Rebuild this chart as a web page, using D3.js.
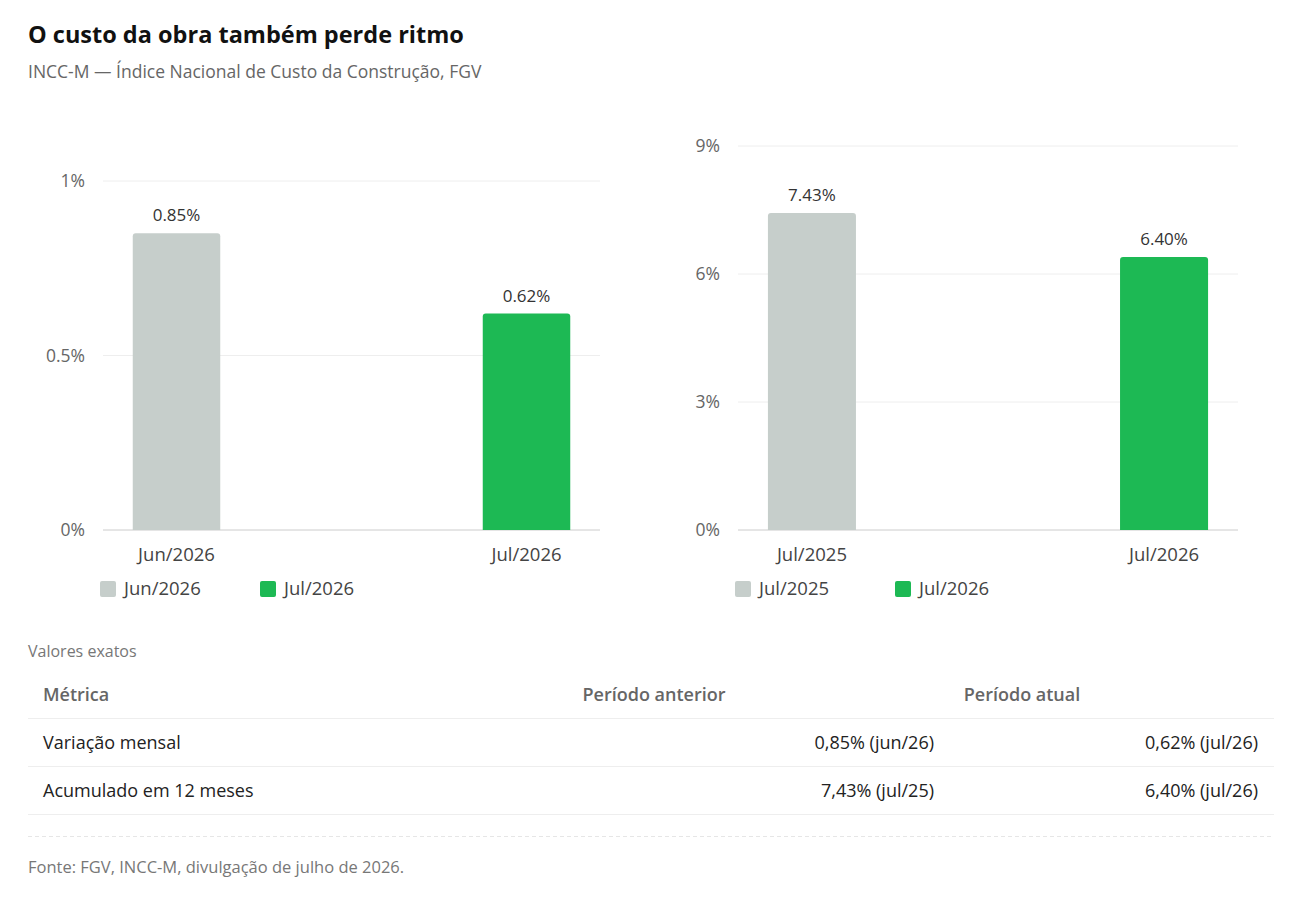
<!DOCTYPE html>
<html><head><meta charset="utf-8">
<script src="https://cdn.jsdelivr.net/npm/d3@7"></script>
<style>body{margin:0;background:#fff;font-family:"Open Sans",sans-serif}</style>
</head><body><svg id="c" width="1302" height="903"></svg>
<script>
// monthly change
var monthCats = ["Jun/2026", "Jul/2026"];
var monthVals = [0.85, 0.62];
var monthTicks = [0, 0.5, 1];
// 12-month accumulated
var yearCats = ["Jul/2025", "Jul/2026"];
var yearVals = [7.43, 6.40];
var yearTicks = [0, 3, 6, 9];
var colors = ["#c6cecb", "#1db954"];
var tableHead = ["Métrica", "Período anterior", "Período atual"];
var tableRows = [
  ["Variação mensal", "0,85% (jun/26)", "0,62% (jul/26)"],
  ["Acumulado em 12 meses", "7,43% (jul/25)", "6,40% (jul/26)"]
];

var svg = d3.select("#c");
svg.append("text").attr("x", 28).attr("y", 43).attr("font-size", 23.5).attr("font-weight", 700)
  .attr("fill", "#111").text("O custo da obra também perde ritmo");
svg.append("text").attr("x", 28).attr("y", 78).attr("font-size", 17.5).attr("fill", "#666")
  .text("INCC-M — Índice Nacional de Custo da Construção, FGV");

function chart(x0, x1, yTop, max, cats, vals, ticks, fmt) {
  var g = svg.append("g");
  var x = d3.scaleBand().domain(cats).range([x0, x1]).paddingInner(0.75).paddingOuter(0.085);
  var y = d3.scaleLinear().domain([0, max]).range([530, yTop]);
  ticks.forEach(function(t) {
    g.append("line").attr("x1", x0).attr("x2", x1).attr("y1", y(t)).attr("y2", y(t))
      .attr("stroke", t === 0 ? "#ccc" : "#eee");
    g.append("text").attr("x", x0 - 18).attr("y", y(t) + 6).attr("text-anchor", "end")
      .attr("font-size", 17.5).attr("fill", "#666").text(fmt(t));
  });
  cats.forEach(function(c, i) {
    g.append("path").attr("fill", colors[i]).attr("d", (function() {
      var bx = x(c), bw = x.bandwidth(), by = y(vals[i]), r = 3;
      return "M" + bx + ",530V" + (by + r) + "Q" + bx + "," + by + " " + (bx + r) + "," + by +
        "H" + (bx + bw - r) + "Q" + (bx + bw) + "," + by + " " + (bx + bw) + "," + (by + r) + "V530Z";
    })());
    g.append("text").attr("x", x(c) + x.bandwidth() / 2).attr("y", y(vals[i]) - 12)
      .attr("text-anchor", "middle").attr("font-size", 17).attr("fill", "#333")
      .text(vals[i].toFixed(2) + "%");
    g.append("text").attr("x", x(c) + x.bandwidth() / 2).attr("y", 561)
      .attr("text-anchor", "middle").attr("font-size", 18.5).attr("fill", "#444").text(c);
    var lx = x0 - 3 + i * 160;
    g.append("rect").attr("x", lx).attr("y", 581).attr("width", 16).attr("height", 16).attr("rx", 2)
      .attr("fill", colors[i]);
    g.append("text").attr("x", lx + 24).attr("y", 595).attr("font-size", 18.5).attr("fill", "#444").text(c);
  });
}
chart(103, 600, 181, 1, monthCats, monthVals, monthTicks, function(t) { return t + "%"; });
chart(738, 1238, 146, 9, yearCats, yearVals, yearTicks, function(t) { return t + "%"; });

svg.append("text").attr("x", 28).attr("y", 657).attr("font-size", 16).attr("fill", "#777").text("Valores exatos");
var th = svg.append("g");
th.append("text").attr("x", 43).attr("y", 701).attr("font-size", 18).attr("font-weight", 600).attr("fill", "#666").text(tableHead[0]);
th.append("text").attr("x", 654).attr("y", 701).attr("text-anchor", "middle").attr("font-size", 18).attr("font-weight", 600).attr("fill", "#666").text(tableHead[1]);
th.append("text").attr("x", 1022).attr("y", 701).attr("text-anchor", "middle").attr("font-size", 18).attr("font-weight", 600).attr("fill", "#666").text(tableHead[2]);
svg.append("line").attr("x1", 28).attr("x2", 1274).attr("y1", 718.5).attr("y2", 718.5).attr("stroke", "#eee");
tableRows.forEach(function(r, i) {
  var yy = 749 + i * 48;
  svg.append("text").attr("x", 43).attr("y", yy).attr("font-size", 18).attr("fill", "#222").text(r[0]);
  svg.append("text").attr("x", 934).attr("y", yy).attr("text-anchor", "end").attr("font-size", 18).attr("fill", "#222").text(r[1]);
  svg.append("text").attr("x", 1258).attr("y", yy).attr("text-anchor", "end").attr("font-size", 18).attr("fill", "#222").text(r[2]);
  svg.append("line").attr("x1", 28).attr("x2", 1274).attr("y1", yy + 17.5).attr("y2", yy + 17.5).attr("stroke", "#eee");
});
svg.append("line").attr("x1", 28).attr("x2", 1274).attr("y1", 836.5).attr("y2", 836.5).attr("stroke", "#e6e6e6").attr("stroke-dasharray", "4,3");
svg.append("text").attr("x", 28).attr("y", 873).attr("font-size", 16.5).attr("fill", "#777").text("Fonte: FGV, INCC-M, divulgação de julho de 2026.");
</script></body></html>
